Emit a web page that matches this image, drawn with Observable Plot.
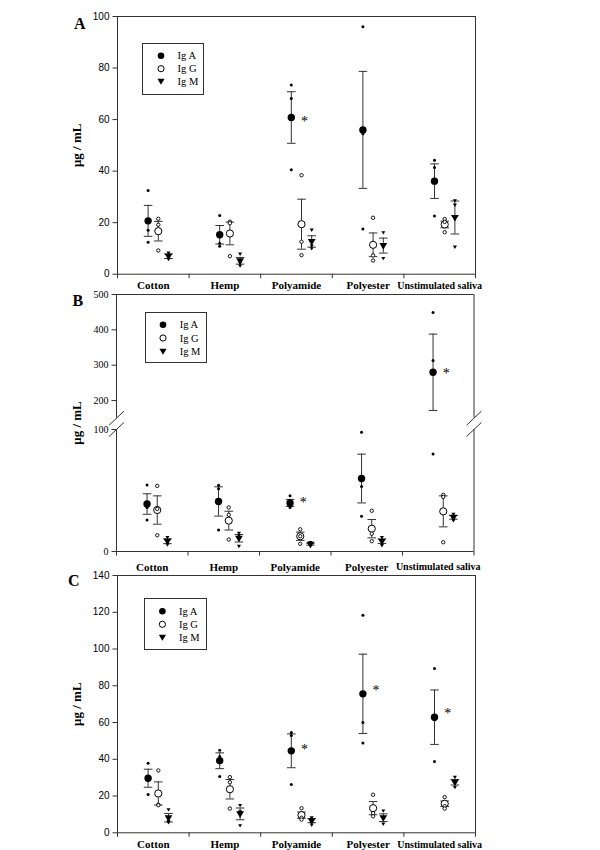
<!DOCTYPE html>
<html>
<head>
<meta charset="utf-8">
<script src="https://cdn.jsdelivr.net/npm/d3@7"></script>
<script src="https://cdn.jsdelivr.net/npm/@observablehq/plot@0.6"></script>
<style>
  body { margin: 0; background: #fff; }
  #wrap { position: relative; width: 600px; height: 850px; background: #fff; }
  .panel { position: absolute; left: 0; }
  .legend { position: absolute; border: 1px solid #333; background: #fff; box-sizing: border-box; }
</style>
</head>
<body>
<div id="wrap"></div>
<script>
// ---------- data ----------
const categories = ["Cotton", "Hemp", "Polyamide", "Polyester", "Unstimulated saliva"];
const series = ["Ig A", "Ig G", "Ig M"];
const yLabel = "μg / mL";

// Panel A  (rows: Ig A, Ig G, Ig M; columns follow categories)
const meanA = [
  [20.7, 15.3, 60.8, 56.0, 36.1],
  [16.7, 15.8, 19.4, 11.4, 19.3],
  [7.0, 5.2, 12.7, 11.1, 22.0]
];
const semA = [
  [6.0, 3.6, 10.0, 22.7, 6.7],
  [3.8, 4.4, 9.7, 4.6, 1.3],
  [0.9, 1.3, 2.2, 2.9, 6.4]
];
const pointsA = [
  [[32.5, 17.1, 12.4], [22.8, 12.0, 10.8], [73.4, 68.2, 40.5], [96.0, 54.5, 17.5], [44.2, 41.4, 22.6]],
  [[21.5, 19.2, 9.2], [20.4, 19.8, 7.0], [38.4, 12.6, 7.4], [21.9, 7.3, 5.3], [21.4, 20.3, 16.3]],
  [[8.3, 7.0, 5.8], [7.9, 4.4, 3.3], [17.2, 11.0, 10.0], [16.2, 11.0, 6.2], [28.6, 26.9, 10.6]]
];
const starCatsA = ["Polyamide"];
const starValsA = [60.6];
const yTicksA = [0, 20, 40, 60, 80, 100];

// Panel B (broken axis)
const meanB = [
  [38.9, 41.0, 39.8, 59.8, 280.0],
  [34.0, 25.3, 12.5, 18.7, 32.9],
  [8.4, 10.9, 6.0, 8.4, 28.0]
];
const semB = [
  [8.4, 12.0, 2.9, 20.0, 108.0],
  [11.6, 7.7, 3.4, 7.5, 12.7],
  [2.0, 3.1, 0.8, 1.8, 1.5]
];
const pointsB = [
  [[54.6, 36.0, 25.8], [54.3, 51.5, 17.7], [45.7, 37.9, 36.0], [97.8, 53.2, 28.8], [449, 313, 80]],
  [[53.8, 34.9, 13.3], [36.1, 30.0, 9.8], [18.2, 12.5, 6.3], [33.4, 14.5, 8.4], [46.4, 44.7, 7.6]],
  [[11.7, 8.0, 5.6], [15.2, 13.0, 4.4], [7.5, 6.0, 4.6], [11.6, 8.6, 5.0], [30.6, 28.0, 25.4]]
];
const starCatsB = ["Polyamide", "Unstimulated saliva"];
const starValsB = [42.4, 285];
const yTicksB = [0, 100, 200, 300, 400, 500];
const breakB = [100, 150];

// Panel C
const meanC = [
  [29.7, 39.2, 44.6, 75.6, 62.9],
  [21.4, 23.7, 9.6, 13.4, 15.8],
  [8.2, 10.3, 6.6, 8.2, 27.5]
];
const semC = [
  [4.9, 4.3, 9.2, 21.6, 14.8],
  [6.3, 5.3, 1.7, 3.6, 1.5],
  [2.3, 3.2, 1.1, 2.1, 1.5]
];
const pointsC = [
  [[37.9, 30.4, 20.8], [44.9, 41.5, 30.6], [54.6, 53.0, 26.3], [118.4, 60.0, 48.8], [89.4, 61.5, 38.8]],
  [[33.9, 15.3, 15.0], [30.3, 27.5, 13.2], [13.4, 8.2, 7.2], [20.7, 10.7, 9.0], [19.4, 14.5, 13.2]],
  [[12.7, 6.2, 5.6], [15.0, 11.5, 4.0], [8.3, 7.2, 4.3], [12.0, 7.7, 4.9], [30.3, 27.3, 24.8]]
];
const starCatsC = ["Polyamide", "Polyester", "Unstimulated saliva"];
const starValsC = [47.0, 78.9, 66.5];
const yTicksC = [0, 20, 40, 60, 80, 100, 120, 140];

// ---------- drawing ----------
const ink = "#333";
const serif = "'Liberation Serif', 'Times New Roman', serif";
const sans = "'Liberation Sans', Arial, sans-serif";
const seriesDx = [-5.2, 5, 15.2];
const xBounds = d3.range(categories.length + 1).map(i => i + 0.5);
const xCenters = categories.map((c, i) => i + 1);

const capSym = {draw(ctx, size) { const r = Math.sqrt(size / Math.PI); ctx.moveTo(-r, 0); ctx.lineTo(r, 0); }};
const triSym = {draw(ctx, size) { const r = Math.sqrt(size / Math.PI); ctx.moveTo(-r, -0.65 * r); ctx.lineTo(r, -0.65 * r); ctx.lineTo(0, 1.05 * r); ctx.closePath(); }};
const slashSym = {draw(ctx, size) { const r = Math.sqrt(size / Math.PI); ctx.moveTo(-r, 0.95 * r); ctx.lineTo(r, -0.95 * r); }};

function dataMarks(mean, sem, pts) {
  const marks = [];
  series.forEach((s, si) => {
    const rows = categories.map((c, ci) => ({x: ci + 1, m: mean[si][ci], e: sem[si][ci]}));
    const prs = categories.flatMap((c, ci) => pts[si][ci].map(v => ({x: ci + 1, v})));
    const dx = seriesDx[si];
    marks.push(
      Plot.ruleX(rows, {x: "x", y1: d => d.m - d.e, y2: d => d.m + d.e, dx, stroke: ink, strokeWidth: 1}),
      Plot.dot(rows, {x: "x", y: d => d.m + d.e, dx, symbol: capSym, r: 4.3, stroke: ink, fill: "none", strokeWidth: 1}),
      Plot.dot(rows, {x: "x", y: d => d.m - d.e, dx, symbol: capSym, r: 4.3, stroke: ink, fill: "none", strokeWidth: 1})
    );
    if (si === 0) {
      marks.push(Plot.dot(rows, {x: "x", y: "m", dx, r: 3.7, fill: "black", stroke: "none"}));
      marks.push(Plot.dot(prs, {x: "x", y: "v", dx, r: 1.5, fill: "black", stroke: "none"}));
    } else if (si === 1) {
      marks.push(Plot.dot(rows, {x: "x", y: "m", dx, r: 3.6, fill: "white", stroke: "black", strokeWidth: 1}));
      marks.push(Plot.dot(prs, {x: "x", y: "v", dx, r: 1.7, fill: "white", stroke: "black", strokeWidth: 0.9}));
    } else {
      marks.push(Plot.dot(rows, {x: "x", y: "m", dx, symbol: triSym, r: 3.9, fill: "black", stroke: "none"}));
      marks.push(Plot.dot(prs, {x: "x", y: "v", dx, symbol: triSym, r: 2.0, fill: "black", stroke: "none"}));
    }
  });
  return marks;
}

function makePanel(cfg) {
  const marks = [];
  if (cfg.broken) {
    const [lo, hi] = cfg.broken;
    const [y0, y1] = [cfg.yDomain[0], cfg.yDomain[cfg.yDomain.length - 1]];
    const xmin = xBounds[0], xmax = xBounds[xBounds.length - 1];
    const segs = [];
    for (const xe of [xmin, xmax]) { segs.push({x: xe, a: y0, b: lo}); segs.push({x: xe, a: hi, b: y1}); }
    marks.push(Plot.ruleX(segs, {x: "x", y1: "a", y2: "b", stroke: ink}));
    marks.push(Plot.ruleY([y0, y1], {stroke: ink}));
    const sl = [];
    for (const xe of [xmin, xmax]) for (const yv of [lo, hi]) sl.push({x: xe, y: yv});
    marks.push(Plot.dot(sl, {x: "x", y: "y", symbol: slashSym, r: 7.4, stroke: ink, fill: "none", strokeWidth: 1}));
  } else {
    marks.push(Plot.frame({stroke: ink}));
  }
  marks.push(
    Plot.axisY({ticks: cfg.yTicks, tickSize: 4.5, tickPadding: 3.5, fontSize: 10, fontFamily: cfg.tickFont, label: null, stroke: ink, fill: "black"}),
    Plot.axisX({ticks: xBounds, tickSize: 4.5, tickFormat: () => "", label: null, stroke: ink}),
    Plot.text(categories, {x: (d, i) => xCenters[i], frameAnchor: "bottom", dy: cfg.labelDy, text: d => d,
      lineAnchor: "middle", textAnchor: "middle", fontWeight: "bold", fontFamily: serif,
      fontSize: d => d.length > 12 ? 10 : 11, fill: "black"}),
    Plot.text([yLabel], {frameAnchor: "left", dx: cfg.yLabelDx, rotate: -90, text: d => d, textAnchor: "middle",
      lineAnchor: "middle", fontWeight: "bold", fontFamily: serif, fontSize: 13, fill: "black"}),
    Plot.text([cfg.letter], {frameAnchor: "top-left", dx: cfg.letterDx, dy: cfg.letterDy, text: d => d, textAnchor: "middle",
      lineAnchor: "middle", fontWeight: "bold", fontFamily: serif, fontSize: 16, fill: "black"}),
    ...dataMarks(cfg.mean, cfg.sem, cfg.pts),
    Plot.text(cfg.starCats, {x: d => categories.indexOf(d) + 1, y: (d, i) => cfg.starVals[i], text: () => "*",
      dx: 8, dy: 3, fontSize: 14, fontFamily: serif, fill: "black", textAnchor: "middle", lineAnchor: "middle"})
  );
  const yScale = {domain: cfg.yDomain};
  if (cfg.yRange) yScale.range = cfg.yRange;
  const svg = Plot.plot({
    width: 600, height: cfg.height,
    marginTop: cfg.mt, marginBottom: cfg.mb, marginLeft: cfg.ml, marginRight: cfg.mr,
    x: {type: "linear", domain: [xBounds[0], xBounds[xBounds.length - 1]]},
    y: {type: "linear", ...yScale},
    style: {overflow: "visible", background: "transparent", color: "black"},
    marks
  });
  svg.classList.add("panel");
  svg.style.top = cfg.top + "px";
  return svg;
}

function legend(left, top, w, h, symX, rowsY, textX) {
  const div = document.createElement("div");
  div.className = "legend";
  Object.assign(div.style, {left: left + "px", top: top + "px", width: w + "px", height: h + "px"});
  const ns = "http://www.w3.org/2000/svg";
  const s = document.createElementNS(ns, "svg");
  s.setAttribute("width", w - 2); s.setAttribute("height", h - 2);
  s.style.display = "block";
  series.forEach((name, i) => {
    const y = rowsY[i] - 1, x = symX - 1;
    let el;
    if (i === 0) { el = document.createElementNS(ns, "circle"); el.setAttribute("cx", x); el.setAttribute("cy", y); el.setAttribute("r", 3.3); el.setAttribute("fill", "black"); }
    else if (i === 1) { el = document.createElementNS(ns, "circle"); el.setAttribute("cx", x); el.setAttribute("cy", y); el.setAttribute("r", 3.1); el.setAttribute("fill", "white"); el.setAttribute("stroke", "black"); }
    else { el = document.createElementNS(ns, "path"); const r = 3.6; el.setAttribute("d", `M${x - r},${y - 0.65 * r}L${x + r},${y - 0.65 * r}L${x},${y + 1.05 * r}Z`); el.setAttribute("fill", "black"); }
    s.appendChild(el);
    const t = document.createElementNS(ns, "text");
    t.setAttribute("x", textX - 1); t.setAttribute("y", y); t.setAttribute("dy", "0.35em");
    t.setAttribute("font-family", serif); t.setAttribute("font-size", 10.5);
    t.textContent = name;
    s.appendChild(t);
  });
  div.appendChild(s);
  return div;
}

const wrap = document.getElementById("wrap");
wrap.appendChild(makePanel({
  top: 0, height: 290, mt: 16, mb: 16.3, ml: 117, mr: 125,
  yDomain: [0, 100], yTicks: yTicksA, tickFont: sans, labelDy: 11.3, yLabelDx: -40.3,
  letter: "A", letterDx: -37.7, letterDy: 7,
  mean: meanA, sem: semA, pts: pointsA, starCats: starCatsA, starVals: starValsA
}));
wrap.appendChild(makePanel({
  top: 290, height: 282, mt: 4, mb: 21, ml: 116, mr: 126.5,
  yDomain: [0, breakB[0], breakB[1], 500], yRange: [261, 139, 127.7, 4], yTicks: yTicksB, tickFont: serif,
  broken: breakB, labelDy: 15.7, yLabelDx: -39.3,
  letter: "B", letterDx: -38.7, letterDy: 6,
  mean: meanB, sem: semB, pts: pointsB, starCats: starCatsB, starVals: starValsB
}));
wrap.appendChild(makePanel({
  top: 572, height: 278, mt: 3, mb: 17.7, ml: 117, mr: 125,
  yDomain: [0, 140], yTicks: yTicksC, tickFont: sans, labelDy: 11.7, yLabelDx: -40.3,
  letter: "C", letterDx: -43.7, letterDy: 5,
  mean: meanC, sem: semC, pts: pointsC, starCats: starCatsC, starVals: starValsC
}));
wrap.appendChild(legend(141.7, 43.3, 62.6, 52, 19, [12.7, 25.7, 38], 35.6));
wrap.appendChild(legend(145.3, 312.3, 62, 51, 18, [12.7, 26, 39], 34.7));
wrap.appendChild(legend(144.3, 598, 63, 52, 18.4, [13.3, 26.3, 39], 35));
</script>
</body>
</html>
